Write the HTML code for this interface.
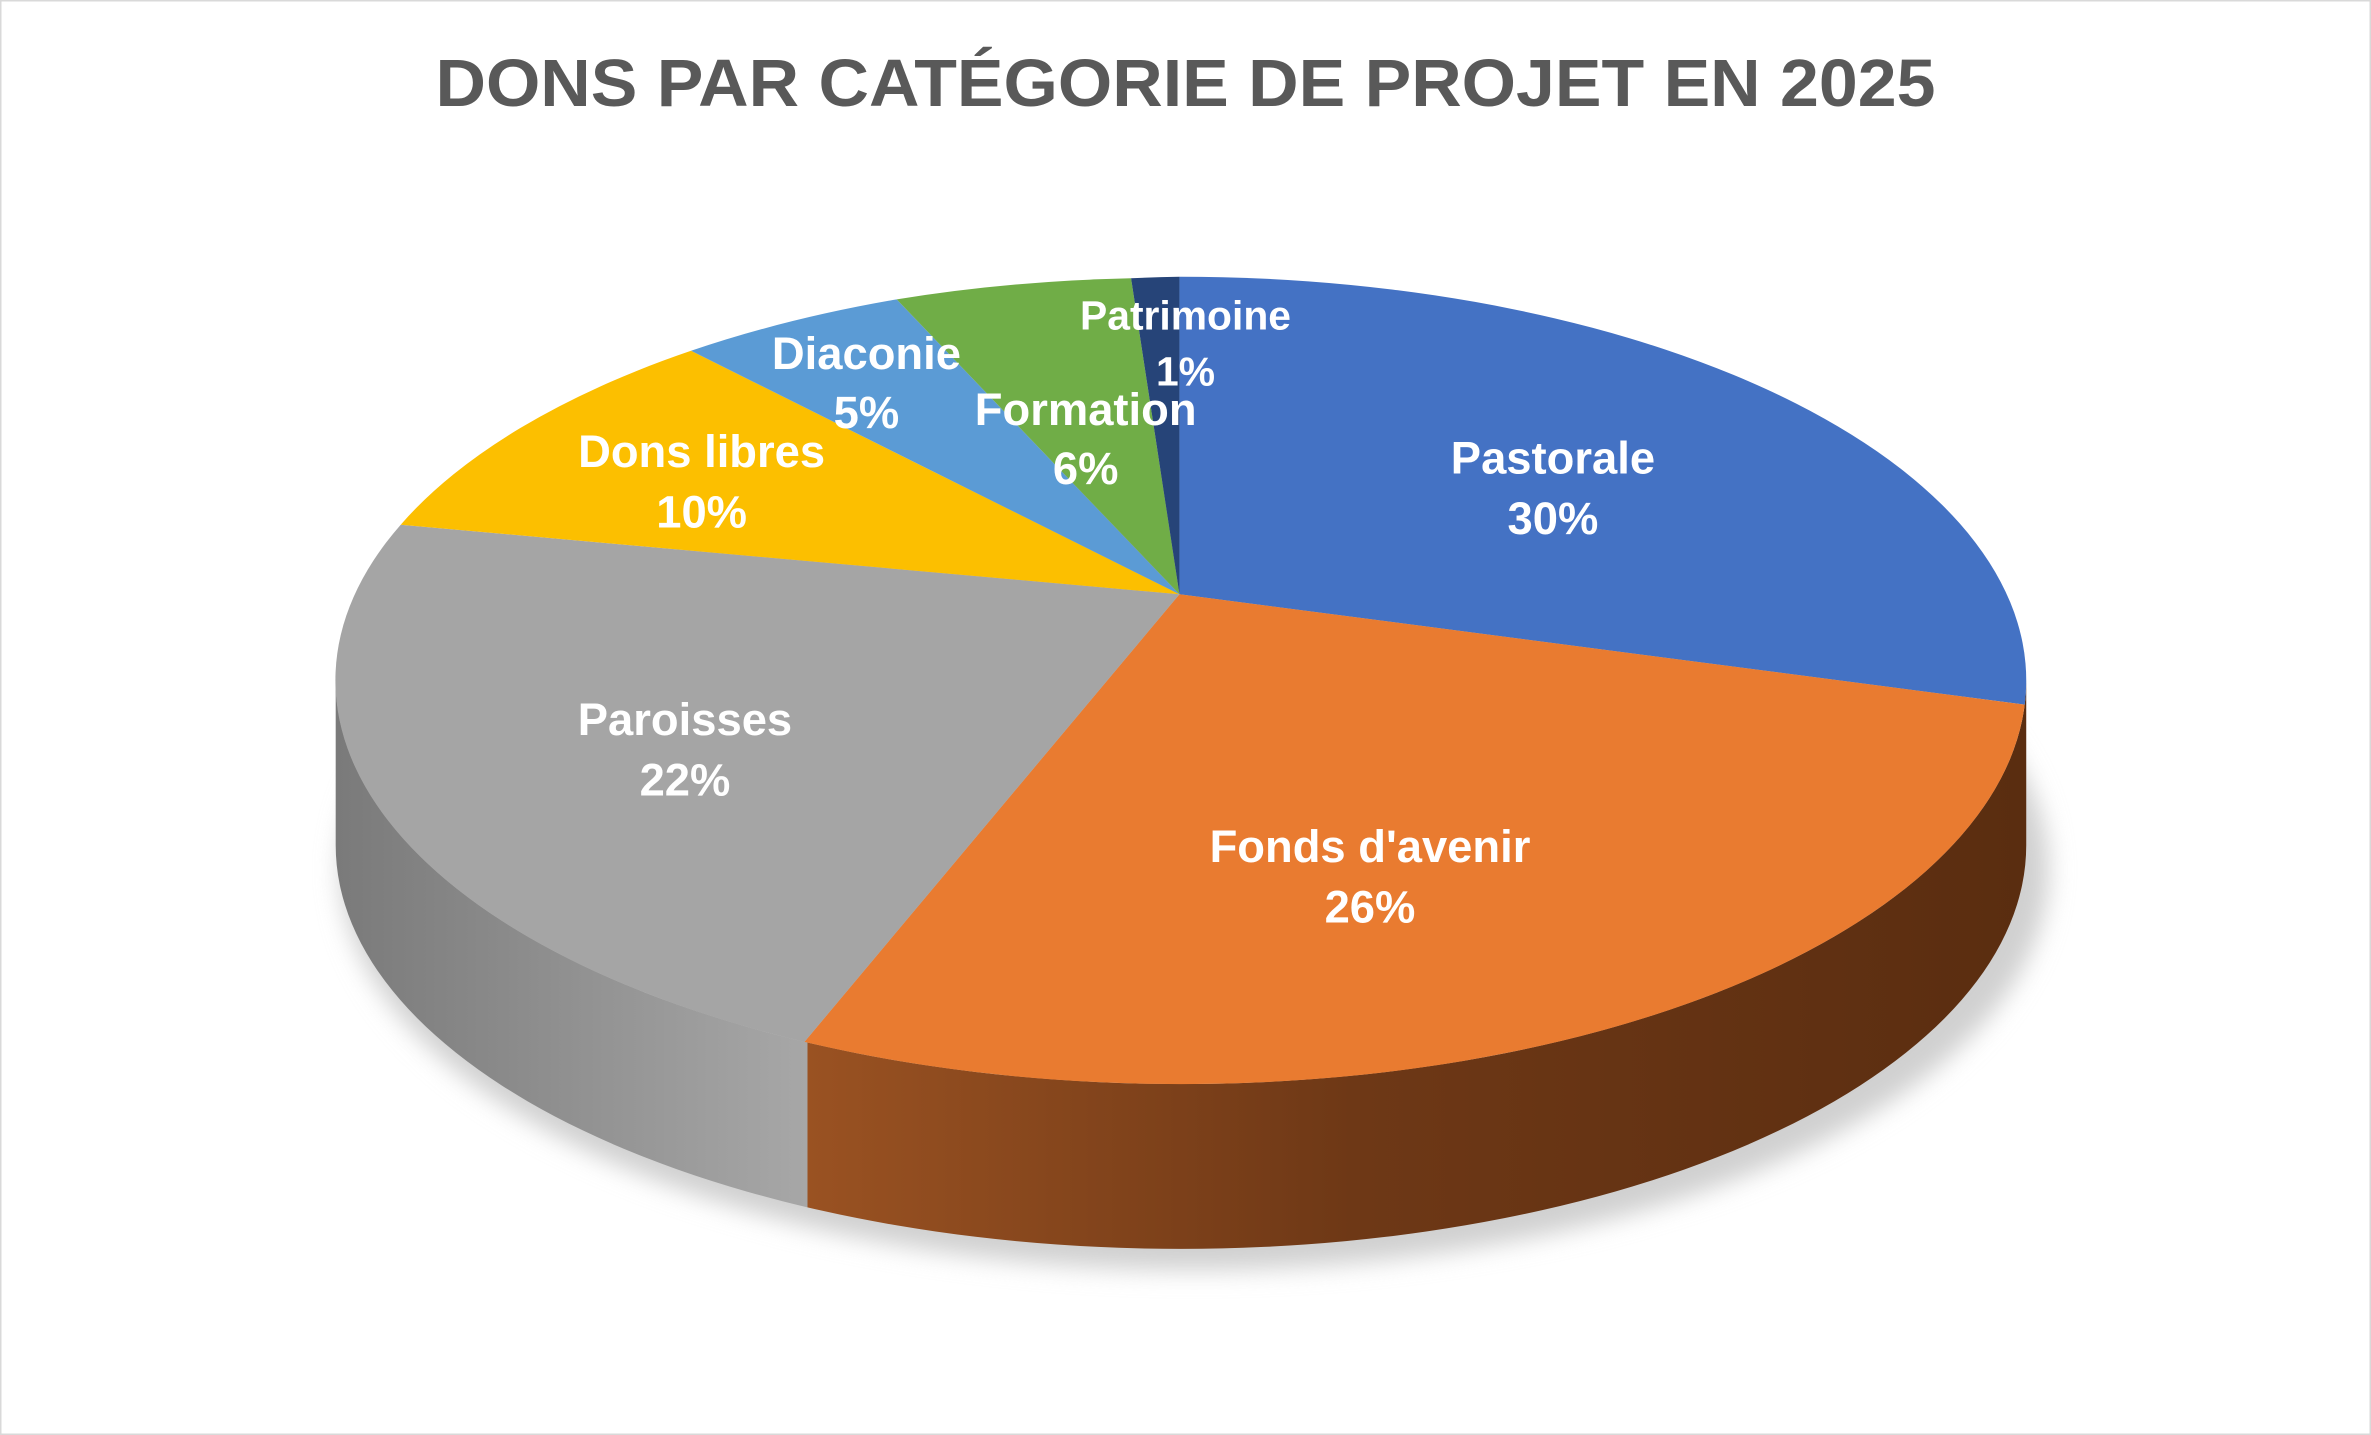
<!DOCTYPE html>
<html><head><meta charset="utf-8"><style>
html,body{margin:0;padding:0;background:#fff;}
svg{display:block;}
text{font-family:"Liberation Sans",sans-serif;font-weight:bold;}
</style></head><body>
<svg width="2371" height="1435" viewBox="0 0 1568 949" preserveAspectRatio="none">
<defs>
<linearGradient id="og" x1="532" y1="0" x2="1340" y2="0" gradientUnits="userSpaceOnUse">
<stop offset="0" stop-color="#9a5222"/><stop offset="0.45" stop-color="#6e3816"/><stop offset="1" stop-color="#5a2d10"/></linearGradient>
<linearGradient id="gg" x1="222" y1="0" x2="540" y2="0" gradientUnits="userSpaceOnUse">
<stop offset="0" stop-color="#7a7a7a"/><stop offset="1" stop-color="#a8a8a8"/></linearGradient>
<filter id="bl"><feGaussianBlur stdDeviation="8"/></filter>
<clipPath id="cl"><rect x="0" y="0" width="534" height="949"/></clipPath>
<clipPath id="cr"><rect x="534" y="0" width="1034" height="949"/></clipPath>
</defs>
<rect x="0.5" y="0.5" width="1567" height="948" fill="#fff" stroke="#d9d9d9"/>
<text x="784" y="70" font-size="44" fill="#595959" text-anchor="middle" textLength="992" lengthAdjust="spacingAndGlyphs">DONS PAR CATÉGORIE DE PROJET EN 2025</text>
<ellipse cx="790" cy="575" rx="565" ry="265" fill="#d0d0d0" filter="url(#bl)"/>
<path d="M222 450 A559 267 0 0 0 1340 450 L1340 559 A559 267 0 0 1 222 559 Z" fill="url(#og)" clip-path="url(#cr)"/>
<path d="M222 450 A559 267 0 0 0 1340 450 L1340 559 A559 267 0 0 1 222 559 Z" fill="url(#gg)" clip-path="url(#cl)"/>
<path d="M780 393 L780 183 A559 267 0 0 1 1339 466 Z" fill="#4472C4"/>
<path d="M780 393 L1339 466 A559 267 0 0 1 532 689 Z" fill="#E97B30"/>
<path d="M780 393 L532 689 A559 267 0 0 1 265 347 Z" fill="#A5A5A5"/>
<path d="M780 393 L265 347 A559 267 0 0 1 457 232 Z" fill="#FCBF00"/>
<path d="M780 393 L457 232 A559 267 0 0 1 593 198 Z" fill="#5B9BD5"/>
<path d="M780 393 L593 198 A559 267 0 0 1 748 184 Z" fill="#70AD47"/>
<path d="M780 393 L748 184 A559 267 0 0 1 780 183 Z" fill="#264478"/>
<g fill="#fff" font-size="30" text-anchor="middle">
<text x="1027" y="313">Pastorale</text><text x="1027" y="353">30%</text>
<text x="906" y="570">Fonds d'avenir</text><text x="906" y="610">26%</text>
<text x="453" y="486">Paroisses</text><text x="453" y="526">22%</text>
<text x="464" y="309">Dons libres</text><text x="464" y="349">10%</text>
<text x="573" y="244">Diaconie</text><text x="573" y="283">5%</text>
<text x="718" y="281">Formation</text><text x="718" y="320">6%</text>
<text x="784" y="218" font-size="27">Patrimoine</text><text x="784" y="255" font-size="27">1%</text>
</g>
</svg>
</body></html>
